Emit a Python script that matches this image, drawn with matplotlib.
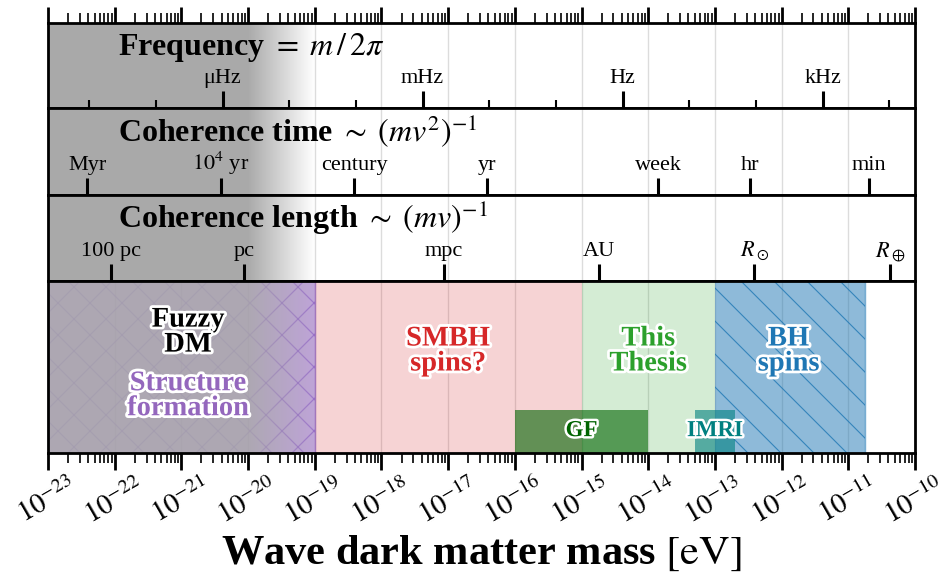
import numpy as np
import matplotlib
matplotlib.use("Agg")
import matplotlib.pyplot as plt
from matplotlib.ticker import LogLocator, NullFormatter, NullLocator
from matplotlib.collections import LineCollection
import matplotlib.patheffects as pe

plt.rcParams['font.family'] = ['Liberation Serif', 'DejaVu Serif']
plt.rcParams['mathtext.fontset'] = 'stix'

# ---------------- data ----------------
m_min, m_max = 1e-23, 1e-10
decade_exponents = list(range(-23, -9))
hbar_eVs = 6.582e-16          # eV s
hbarc_eVm = 1.9733e-7         # eV m
v_dm = 220.0 / 2.998e5        # typical DM velocity / c

freq_major_hz = [1e-6, 1e-3, 1.0, 1e3]
freq_major_labels = ['μHz', 'mHz', 'Hz', 'kHz']
freq_minor_hz = [1e-8, 1e-7, 1e-5, 1e-4, 1e-2, 1e-1, 1e1, 1e2, 1e4]

time_values_s = [3.156e13, 3.156e11, 3.156e9, 3.156e7, 8.64e4, 3.6e3, 60.0]
time_labels = ['Myr', r'$10^4$ yr', 'century', 'yr', 'week', 'hr', 'min']

length_values_m = [3.086e18, 3.086e16, 3.086e13, 1.496e11, 6.957e8, 6.371e6]
length_labels = ['100 pc', 'pc', 'mpc', 'AU', r'$R_\odot$', r'$R_\oplus$']

region_names = ['Fuzzy DM', 'SMBH spins?', 'This Thesis', 'BH spins']
region_lo = [1e-23, 1e-19, 1e-15, 1e-13]
region_hi = [1e-19, 1e-15, 1e-13, 1.8e-11]
region_colors = ['#9467bd', '#d62728', '#2ca02c', '#1f77b4']
region_alpha = [0.6, 0.2, 0.2, 0.5]

box_names = ['GF', 'IMRI']
box_lo = [1e-16, 5e-14]
box_hi = [1e-14, 2e-13]
box_top = [0.25, 0.25]
box_colors = ['darkgreen', 'teal']

gray_full_until = 1e-20
gray_fade_to = 1e-19

# conversions mass <-> quantity
def mass_from_freq(f):
    return 2 * np.pi * hbar_eVs * np.asarray(f)

def mass_from_time(t):
    return hbar_eVs / (v_dm ** 2 * np.asarray(t))

def mass_from_length(l):
    return hbarc_eVm / (v_dm * np.asarray(l))

# ---------------- figure ----------------
FW, FH = 948, 576
fig = plt.figure(figsize=(FW / 100, FH / 100), dpi=100)
LEFT, RIGHT = 48, 915

def rect(top, bot):
    return [LEFT / FW, 1 - bot / FH, (RIGHT - LEFT) / FW, (bot - top) / FH]

ax_f = fig.add_axes(rect(23, 108))
ax_t = fig.add_axes(rect(108, 195))
ax_l = fig.add_axes(rect(195, 281))
ax_m = fig.add_axes(rect(281, 453))
axes = [ax_f, ax_t, ax_l, ax_m]

lognorm = lambda v: (np.log10(v) - np.log10(m_min)) / (np.log10(m_max) - np.log10(m_min))

for ax in axes:
    ax.set_xscale('log')
    ax.set_xlim(m_min, m_max)
    ax.set_ylim(0, 1)
    ax.set_yticks([])
    ax.set_axisbelow(False)
    for s in ax.spines.values():
        s.set_linewidth(2.0)
    # decade grid
    for k in decade_exponents[1:-1]:
        ax.axvline(10.0 ** k, color='#dcdcdc', lw=1.0, zorder=0.5)
    # gray gradient
    amax = 1.0 if ax is not ax_m else 0.8
    x1 = lognorm(gray_fade_to)
    x0 = lognorm(gray_full_until)
    n = 400
    xs = np.linspace(0, x1, n)
    alpha = np.clip((x1 - xs) / (x1 - x0), 0, 1) * amax
    img = np.zeros((1, n, 4))
    img[..., :3] = 0.665
    img[0, :, 3] = alpha
    ax.imshow(img, extent=[0, x1, 0, 1], transform=ax.transAxes, aspect='auto',
              interpolation='bilinear', zorder=2)
    ax.set_xlim(m_min, m_max)
    ax.set_ylim(0, 1)

# top panels ticks
def setup_panel_ticks(ax, major, minor=None):
    ax.set_xticks(major)
    ax.set_xticklabels([])
    if minor is not None:
        ax.set_xticks(minor, minor=True)
    else:
        ax.xaxis.set_minor_locator(NullLocator())
    ax.tick_params(axis='x', which='major', direction='in', length=12, width=2.2,
                   bottom=True, top=False, labelbottom=False)
    ax.tick_params(axis='x', which='minor', direction='in', length=6, width=1.5,
                   bottom=True, top=False, labelbottom=False)

fm = mass_from_freq(freq_major_hz)
setup_panel_ticks(ax_f, fm, mass_from_freq(freq_minor_hz))
tm = mass_from_time(time_values_s)
setup_panel_ticks(ax_t, tm)
lm = mass_from_length(length_values_m)
setup_panel_ticks(ax_l, lm)

lab_kw = dict(ha='center', va='baseline', fontsize=16, zorder=5)
for m, s in zip(fm, freq_major_labels):
    ax_f.text(m, 0.29, s, transform=ax_f.get_xaxis_transform(), **lab_kw)
for m, s in zip(tm, time_labels):
    ax_t.text(m, 0.29, s, transform=ax_t.get_xaxis_transform(), **lab_kw)
for m, s in zip(lm, length_labels):
    ax_l.text(m, 0.29, s, transform=ax_l.get_xaxis_transform(), **lab_kw)

title_kw = dict(ha='left', va='baseline', fontsize=23, fontweight='bold', zorder=5)
ax_f.text(0.081, 0.62, r'Frequency $=\; m\,/\,2\pi$', transform=ax_f.transAxes, **title_kw)
ax_t.text(0.081, 0.62, r'Coherence time $\sim\;(mv^2)^{-1}$', transform=ax_t.transAxes, **title_kw)
ax_l.text(0.081, 0.62, r'Coherence length $\sim\;(mv)^{-1}$', transform=ax_l.transAxes, **title_kw)

# top strip of decade ticks
ax_top = ax_f.twiny()
ax_top.set_xscale('log')
ax_top.set_xlim(m_min, m_max)
ax_top.xaxis.set_major_locator(LogLocator(base=10, numticks=30))
ax_top.xaxis.set_minor_locator(LogLocator(base=10, subs=np.arange(2, 10), numticks=30))
ax_top.tick_params(axis='x', which='major', direction='out', length=11.5, width=2.0,
                   top=True, bottom=False, labeltop=False, labelbottom=False)
ax_top.tick_params(axis='x', which='minor', direction='out', length=7, width=1.2,
                   top=True, bottom=False, labeltop=False, labelbottom=False)
for s in ax_top.spines.values():
    s.set_visible(False)
ax_top.set_yticks([])
ax_f.tick_params(top=False)

# ---------------- main panel ----------------
W_px = RIGHT - LEFT
H_px = 453 - 281
patches = []
for lo, hi, c, a in zip(region_lo, region_hi, region_colors, region_alpha):
    p = ax_m.axvspan(lo, hi, color=c, alpha=a, lw=0, zorder=1)
    patches.append(p)

def hatch_lines(ax, patch, lo, hi, spacing_px, direction, color, alpha, lw):
    x0a, x1a = lognorm(lo), lognorm(hi)
    dx = H_px / W_px
    step = spacing_px / W_px
    segs = []
    start = x0a - dx - step
    xs = np.arange(start, x1a + step, step)
    for x in xs:
        if direction == '/':
            segs.append([(x, 0), (x + dx, 1)])
        else:
            segs.append([(x, 1), (x + dx, 0)])
    lc = LineCollection(segs, colors=color, alpha=alpha, linewidths=lw,
                        transform=ax.transAxes, zorder=1.5)
    ax.add_collection(lc)
    lc.set_clip_path(patch)

hatch_lines(ax_m, patches[0], region_lo[0], region_hi[0], 32, '/', '#8a5cc2', 0.6, 0.9)
hatch_lines(ax_m, patches[0], region_lo[0], region_hi[0], 32, '\\', '#8a5cc2', 0.6, 0.9)
hatch_lines(ax_m, patches[3], region_lo[3], region_hi[3], 33, '\\', '#1f77b4', 0.8, 0.8)
ax_m.axvline(region_hi[0], ymin=0, ymax=1, color='#9467bd', lw=1.0, alpha=0.8, zorder=1.5)
ax_m.axvline(region_hi[3], ymin=0, ymax=1, color='#1f77b4', lw=1.0, alpha=0.6, zorder=1.5)

for lo, hi, t, c in zip(box_lo, box_hi, box_top, box_colors):
    ax_m.axvspan(lo, hi, ymin=0, ymax=t, color=c, alpha=0.6, lw=0, zorder=1.6)

stroke = [pe.withStroke(linewidth=4, foreground='white')]
lbl_kw = dict(ha='center', va='center', fontsize=20.5, fontweight='bold', zorder=6,
              linespacing=1.0, path_effects=stroke, transform=ax_m.get_xaxis_transform())
ax_m.text(10 ** -20.9, 0.70, 'Fuzzy\nDM', color='black', **lbl_kw)
ax_m.text(10 ** -20.9, 0.33, 'Structure\nformation', color='#9467bd', **lbl_kw)
ax_m.text(np.sqrt(region_lo[1] * region_hi[1]), 0.59, 'SMBH\nspins?', color='#d62728', **lbl_kw)
ax_m.text(np.sqrt(region_lo[2] * region_hi[2]), 0.59, 'This\nThesis', color='#2ca02c', **lbl_kw)
ax_m.text(np.sqrt(region_lo[3] * region_hi[3]) * 0.95, 0.59, 'BH\nspins', color='#1f77b4', **lbl_kw)

box_kw = dict(ha='center', va='center', fontsize=16.5, fontweight='bold', zorder=6,
              path_effects=[pe.withStroke(linewidth=3.5, foreground='white')],
              transform=ax_m.get_xaxis_transform())
ax_m.text(np.sqrt(box_lo[0] * box_hi[0]), 0.13, 'GF', color='darkgreen', **box_kw)
ax_m.text(np.sqrt(box_lo[1] * box_hi[1]), 0.13, 'IMRI', color='teal', **box_kw)

ax_m.set_xticks([10.0 ** k for k in decade_exponents])
ax_m.xaxis.set_minor_locator(LogLocator(base=10, subs=np.arange(2, 10), numticks=30))
ax_m.xaxis.set_major_formatter(NullFormatter())
ax_m.xaxis.set_minor_formatter(NullFormatter())
ax_m.tick_params(axis='x', which='major', direction='out', length=12, width=2.0)
ax_m.tick_params(axis='x', which='minor', direction='out', length=7.5, width=1.2)

for k in decade_exponents:
    ax_m.annotate(r'$10^{%d}$' % k, xy=(10.0 ** k, 0), xycoords=('data', 'axes fraction'),
                  xytext=(0, -15), textcoords='offset points', ha='center', va='top',
                  rotation=30, rotation_mode='default', fontsize=20.5, annotation_clip=False)

fig.text(0.5075, 1 - 564 / FH, r'Wave dark matter mass $[\mathrm{eV}]$', ha='center',
         va='baseline', fontsize=30.5, fontweight='bold')

fig.savefig('out.png', dpi=100)
